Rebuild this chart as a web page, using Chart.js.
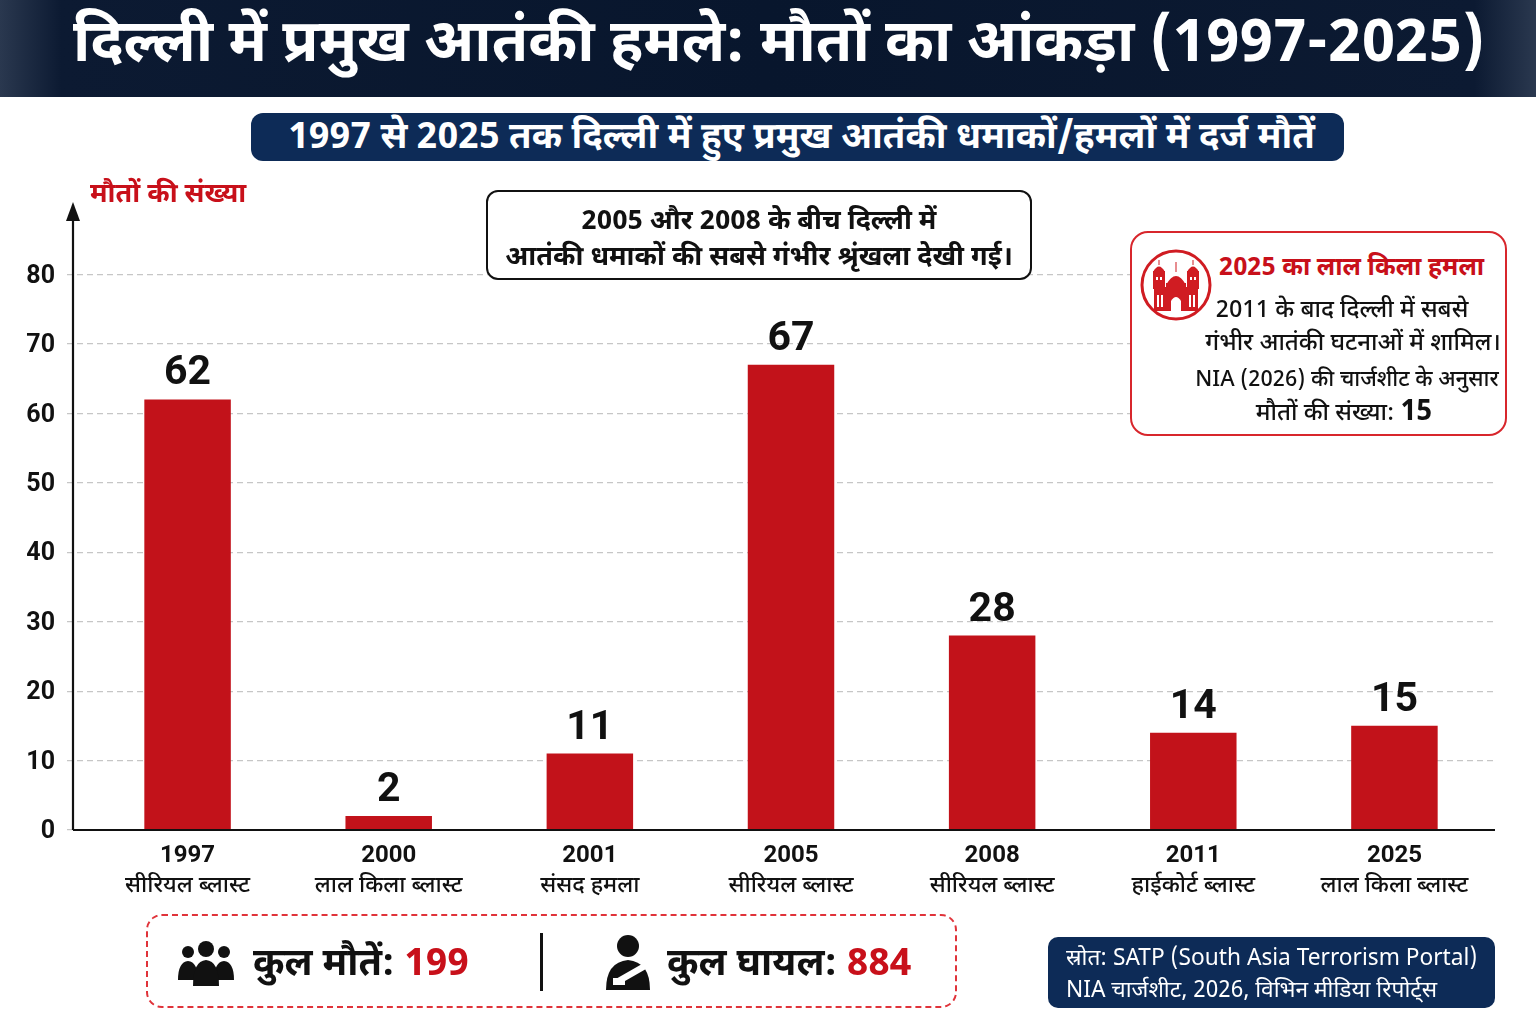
<!DOCTYPE html>
<html>
<head>
<meta charset="utf-8">
<script src="https://cdn.jsdelivr.net/npm/chart.js@4.4.1/dist/chart.umd.min.js"></script>
<style>
  html,body{margin:0;padding:0;}
  body{width:1536px;height:1024px;position:relative;overflow:hidden;background:#ffffff;
       font-family:"Noto Sans Devanagari","Noto Sans","DejaVu Sans",sans-serif;color:#111;}
  .abs{position:absolute;}
  #banner{left:0;top:0;width:1536px;height:97px;
    background:linear-gradient(90deg,#2a384f 0%,#0c1a32 4%,#08162d 50%,#0c1a32 96%,#2a384f 100%);}
  #title{left:11px;top:0;width:1536px;height:97px;line-height:94px;text-align:center;color:#fff;
    font-weight:700;font-size:59px;white-space:nowrap;}
  #subtitle{left:251px;top:113px;width:1093px;height:48px;line-height:52px;background:#0d2b57;border-radius:12px;
    color:#fff;font-weight:700;font-size:36.5px;text-align:center;white-space:nowrap;padding-left:8px;box-sizing:border-box;}
  #ytitle{left:90px;top:178px;color:#c8101a;font-weight:700;font-size:27px;white-space:nowrap;}
  #note{left:486px;top:190px;width:546px;height:90px;border:2px solid #111;border-radius:12px;background:#fff;
    text-align:center;font-weight:700;font-size:27px;line-height:36px;padding-top:13px;box-sizing:border-box;white-space:nowrap;}
  #redbox{left:1130px;top:231px;width:377px;height:205px;border:2px solid #d8262c;border-radius:18px;background:#fff;box-sizing:border-box;}
  #redtitle{left:1219px;top:253px;color:#c8101a;font-weight:700;font-size:25px;white-space:nowrap;}
  .rl{font-size:24px;font-weight:500;white-space:nowrap;text-align:center;width:400px;}
  #totals{left:146px;top:914px;width:811px;height:94px;border:2px dashed #e0333a;border-radius:16px;box-sizing:border-box;background:#fff;}
  .tot{top:941px;font-weight:700;font-size:38px;white-space:nowrap;line-height:50px;}
  .red{color:#c8101a;}
  #divider{left:540px;top:933px;width:3px;height:58px;background:#111;}
  #source{left:1048px;top:937px;width:447px;height:71px;background:#0d2b57;border-radius:10px;color:#fff;
    font-size:22.7px;line-height:32px;padding:7px 0 0 18px;box-sizing:border-box;white-space:nowrap;}
  #chartwrap{left:0;top:0;width:1536px;height:1024px;}
</style>
</head>
<body>
<div id="banner" class="abs"></div>
<div id="title" class="abs">दिल्ली में प्रमुख आतंकी हमले: मौतों का आंकड़ा (1997-2025)</div>
<div id="subtitle" class="abs">1997 से 2025 तक दिल्ली में हुए प्रमुख आतंकी धमाकों/हमलों में दर्ज मौतें</div>

<div id="chartwrap" class="abs"><canvas id="c" width="1536" height="1024"></canvas></div>

<div id="ytitle" class="abs">मौतों की संख्या</div>
<div id="note" class="abs">2005 और 2008 के बीच दिल्ली में<br>आतंकी धमाकों की सबसे गंभीर श्रृंखला देखी गई।</div>

<div id="redbox" class="abs"></div>
<svg class="abs" style="left:1140px;top:249px" width="72" height="72" viewBox="0 0 72 72">
  <circle cx="36" cy="36" r="34" fill="#fff" stroke="#d01c22" stroke-width="3"/>
  <g fill="#d01c22">
    <rect x="14" y="38" width="44" height="24"/>
    <rect x="13" y="22" width="12" height="18"/>
    <path d="M13 23 Q19 12 25 23 Z"/>
    <rect x="18.5" y="11" width="1" height="5"/>
    <rect x="47" y="22" width="12" height="18"/>
    <path d="M47 23 Q53 12 59 23 Z"/>
    <rect x="52.5" y="11" width="1" height="5"/>
    <path d="M26 36 Q36 18 46 36 Z"/>
    <rect x="35.5" y="13" width="1" height="10"/>
    <rect x="26" y="34" width="20" height="6"/>
  </g>
  <g fill="#fff">
    <path d="M31 62 L31 52 Q36 44 41 52 L41 62 Z"/>
    <rect x="17" y="46" width="2" height="12"/><rect x="21" y="46" width="2" height="12"/>
    <rect x="49" y="46" width="2" height="12"/><rect x="53" y="46" width="2" height="12"/>
    <rect x="16" y="28" width="2" height="3"/><rect x="20" y="28" width="2" height="3"/>
    <rect x="50" y="28" width="2" height="3"/><rect x="54" y="28" width="2" height="3"/>
  </g>
</svg>
<div id="redtitle" class="abs">2025 का लाल किला हमला</div>
<div class="abs rl" style="top:295px;left:1142px;">2011 के बाद दिल्ली में सबसे</div>
<div class="abs rl" style="top:328px;left:1153px;">गंभीर आतंकी घटनाओं में शामिल।</div>
<div class="abs rl" style="top:366px;left:1147px;font-size:22px;">NIA (2026) की चार्जशीट के अनुसार</div>
<div class="abs rl" style="top:395px;left:1144px;">मौतों की संख्या: <b style="font-size:28px">15</b></div>

<div id="totals" class="abs"></div>
<svg class="abs" style="left:176px;top:940px" width="60" height="46" viewBox="0 0 60 46">
  <g fill="#111">
    <circle cx="12" cy="12" r="6"/><path d="M2 40 Q2 22 12 21 Q22 22 22 40 Z"/>
    <circle cx="48" cy="12" r="6"/><path d="M38 40 Q38 22 48 21 Q58 22 58 40 Z"/>
    <circle cx="30" cy="9" r="8"/><path d="M17 46 Q17 21 30 20 Q43 21 43 46 Z"/>
  </g>
</svg>
<div class="abs tot" style="left:253px;">कुल मौतें: <span class="red">199</span></div>
<div id="divider" class="abs"></div>
<svg class="abs" style="left:604px;top:934px" width="48" height="56" viewBox="0 0 48 56">
  <circle cx="24" cy="12" r="11" fill="#111"/>
  <path d="M2 56 Q2 28 24 26 Q46 28 46 56 Z" fill="#111"/>
  <path d="M10 46 L38 30 L42 35 L14 51 Z" fill="#fff"/>
  <rect x="9" y="44" width="12" height="7" fill="#fff"/>
</svg>
<div class="abs tot" style="left:667px;">कुल घायल: <span class="red">884</span></div>

<div id="source" class="abs">स्रोत: SATP (South Asia Terrorism Portal)<br>NIA चार्जशीट, 2026, विभिन मीडिया रिपोर्ट्स</div>

<script>
// ---- data ----
const years = ['1997','2000','2001','2005','2008','2011','2025'];
const attackTypes = ['सीरियल ब्लास्ट','लाल किला ब्लास्ट','संसद हमला','सीरियल ब्लास्ट','सीरियल ब्लास्ट','हाईकोर्ट ब्लास्ट','लाल किला ब्लास्ट'];
const deaths = [62, 2, 11, 67, 28, 14, 15];
const yTicks = [0,10,20,30,40,50,60,70,80];

const FONT = '"Noto Sans Devanagari","Noto Sans","DejaVu Sans",sans-serif';
const NUMFONT = 'Roboto,"Noto Sans",sans-serif';
const BAR = '#c2121a';

const decor = {
  id:'decor',
  afterDraw(chart){
    const ctx = chart.ctx, a = chart.chartArea;
    const axX = a.left - 14;
    ctx.save();
    ctx.strokeStyle = '#111'; ctx.lineWidth = 2.2;
    ctx.beginPath(); ctx.moveTo(axX, a.bottom); ctx.lineTo(a.right, a.bottom); ctx.stroke();
    ctx.beginPath(); ctx.moveTo(axX, a.bottom); ctx.lineTo(axX, a.top + 12); ctx.stroke();
    ctx.fillStyle = '#111';
    ctx.beginPath(); ctx.moveTo(axX, a.top - 3); ctx.lineTo(axX - 7, a.top + 16); ctx.lineTo(axX + 7, a.top + 16); ctx.closePath(); ctx.fill();
    const meta = chart.getDatasetMeta(0);
    ctx.textAlign = 'center'; ctx.textBaseline = 'alphabetic';
    ctx.font = '700 41px ' + NUMFONT;
    meta.data.forEach((bar, i) => {
      ctx.fillText(String(deaths[i]), bar.x, bar.y - 15);
    });
    const xs = chart.scales.x;
    ctx.font = '500 23px ' + FONT;
    attackTypes.forEach((t, i) => {
      ctx.fillText(t, xs.getPixelForValue(i), 892);
    });
    ctx.restore();
  }
};

new Chart(document.getElementById('c'), {
  type:'bar',
  data:{ labels: years, datasets:[{ data: deaths, backgroundColor: BAR, borderWidth:0,
         barPercentage:0.43, categoryPercentage:1.0 }]},
  options:{
    responsive:false, animation:false,
    layout:{ padding:{ left:0, right:41, top:205, bottom:0 } },
    plugins:{ legend:{display:false}, tooltip:{enabled:false} },
    scales:{
      x:{
        afterFit(s){ s.height = 194; },
        grid:{ display:false, drawTicks:false },
        border:{ display:false },
        ticks:{ color:'#111', font:{ family:NUMFONT, size:24, weight:'700' }, padding:12 }
      },
      y:{
        min:0, max:90,
        afterFit(s){ s.width = 87; },
        afterBuildTicks(s){ s.ticks = yTicks.concat([90]).map(v=>({value:v})); },
        grid:{ color:(c)=> c.tick && c.tick.value === 90 ? 'rgba(0,0,0,0)' : '#c6c6c6',
               lineWidth:1.2, tickLength:20, drawTicks:true,
               tickColor:(c)=> c.tick && c.tick.value === 90 ? 'rgba(0,0,0,0)' : '#c6c6c6',
               tickBorderDash:[6,4] },
        border:{ display:false, dash:[6,4] },
        ticks:{ color:'#111', font:{ family:NUMFONT, size:25, weight:'700' }, padding:12, labelOffset:2,
                callback:(v)=> v === 90 ? '' : String(v) }
      }
    }
  },
  plugins:[decor]
});
</script>
</body>
</html>
